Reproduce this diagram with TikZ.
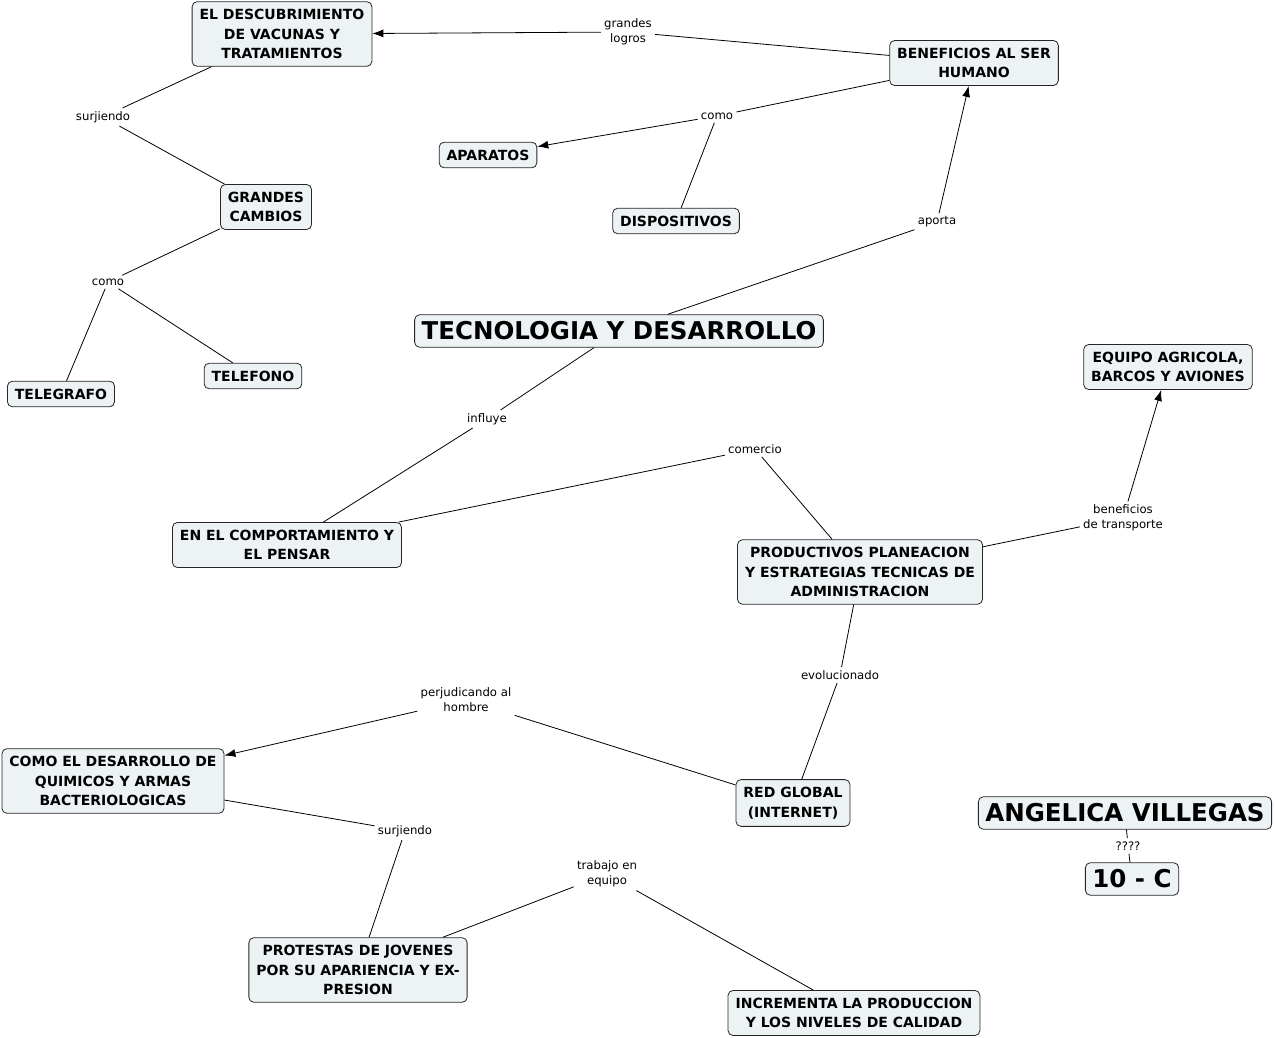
\documentclass[tikz,border=0pt]{standalone}
\usepackage{fontspec}
\setmainfont{DejaVu Sans}
\usetikzlibrary{arrows.meta}
\definecolor{boxfill}{RGB}{237,243,245}
\newcommand\cmbox{\fontsize{14}{19.5}\selectfont\bfseries}
\newcommand\cmbig{\fontsize{24.5}{28}\selectfont\bfseries}
\newcommand\cmlink{\fontsize{11.7}{15}\selectfont}
\begin{document}
\begin{tikzpicture}[x=1pt,y=-1pt,
  concept/.style={draw=black!85,fill=boxfill,rounded corners=5pt,align=center,
    font=\cmbox,inner xsep=7.5pt,inner ysep=7.5pt,line width=0.8pt},
  bigconcept/.style={concept,font=\cmbig,inner xsep=7pt,inner ysep=7pt},
  link/.style={font=\cmlink,align=center,inner sep=3pt},
  tip/.style={-{Latex[length=11pt,width=8pt]}},
  every path/.style={line width=0.8pt}]
  \useasboundingbox (0,0) rectangle (1275,1038);
  % concepts
  \node[bigconcept] (tec) at (619,331) {TECNOLOGIA Y DESARROLLO};
  \node[concept] (desc) at (282,34) {EL DESCUBRIMIENTO\\DE VACUNAS Y\\TRATAMIENTOS};
  \node[concept] (benef) at (974,63) {BENEFICIOS AL SER\\HUMANO};
  \node[concept] (aparatos) at (488,155) {APARATOS};
  \node[concept] (dispos) at (676,221) {DISPOSITIVOS};
  \node[concept] (cambios) at (266,207) {GRANDES\\CAMBIOS};
  \node[concept] (telegrafo) at (61,394) {TELEGRAFO};
  \node[concept] (telefono) at (253,376) {TELEFONO};
  \node[concept] (equipo) at (1168,367) {EQUIPO AGRICOLA,\\BARCOS Y AVIONES};
  \node[concept] (compor) at (287,545) {EN EL COMPORTAMIENTO Y\\EL PENSAR};
  \node[concept] (prod) at (860,572) {PRODUCTIVOS PLANEACION\\Y ESTRATEGIAS TECNICAS DE\\ADMINISTRACION};
  \node[concept] (quim) at (113,781) {COMO EL DESARROLLO DE\\QUIMICOS Y ARMAS\\BACTERIOLOGICAS};
  \node[concept] (red) at (793,803) {RED GLOBAL\\(INTERNET)};
  \node[concept] (protestas) at (358,970) {PROTESTAS DE JOVENES\\POR SU APARIENCIA Y EX-\\PRESION};
  \node[concept] (incrementa) at (854,1013) {INCREMENTA LA PRODUCCION\\Y LOS NIVELES DE CALIDAD};
  \node[bigconcept] (autora) at (1125,813) {ANGELICA VILLEGAS};
  \node[bigconcept] (grupo) at (1132,879) {10 - C};
  % linking phrases
  \node[link] (logros) at (628,32) {grandes\\logros};
  \node[link] (como1) at (717,116) {como};
  \node[link] (aporta) at (937,222) {aporta};
  \node[link] (surj1) at (103,117) {surjiendo};
  \node[link] (como2) at (108,282) {como};
  \node[link] (influye) at (487,419) {influye};
  \node[link] (comercio) at (755,449) {comercio};
  \node[link] (transp) at (1123,518) {beneficios\\de transporte};
  \node[link] (evol) at (840,675) {evolucionado};
  \node[link] (perj) at (466,700) {perjudicando al\\hombre};
  \node[link] (surj2) at (405,831) {surjiendo};
  \node[link] (trabajo) at (607,874) {trabajo en\\equipo};
  \node[link] (preg) at (1128,846) {????};
  % connectors
  \draw (benef) -- (logros);
  \draw[tip] (logros) -- (desc);
  \draw (benef) -- (como1);
  \draw[tip] (como1) -- (aparatos);
  \draw (como1) -- (dispos);
  \draw (tec) -- (aporta);
  \draw[tip] (aporta) -- (benef);
  \draw (desc) -- (surj1);
  \draw (surj1) -- (cambios);
  \draw (cambios) -- (como2);
  \draw (como2) -- (telegrafo);
  \draw (como2) -- (telefono);
  \draw (tec) -- (influye);
  \draw (influye) -- (compor);
  \draw (compor) -- (comercio);
  \draw (comercio) -- (prod);
  \draw (prod) -- (transp);
  \draw[tip] (transp) -- (equipo);
  \draw (prod) -- (evol);
  \draw (evol) -- (red);
  \draw (red) -- (perj);
  \draw[tip] (perj) -- (quim);
  \draw (quim) -- (surj2);
  \draw (surj2) -- (protestas);
  \draw (protestas) -- (trabajo);
  \draw (trabajo) -- (incrementa);
  \draw (autora) -- (preg);
  \draw (preg) -- (grupo);
\end{tikzpicture}
\end{document}
